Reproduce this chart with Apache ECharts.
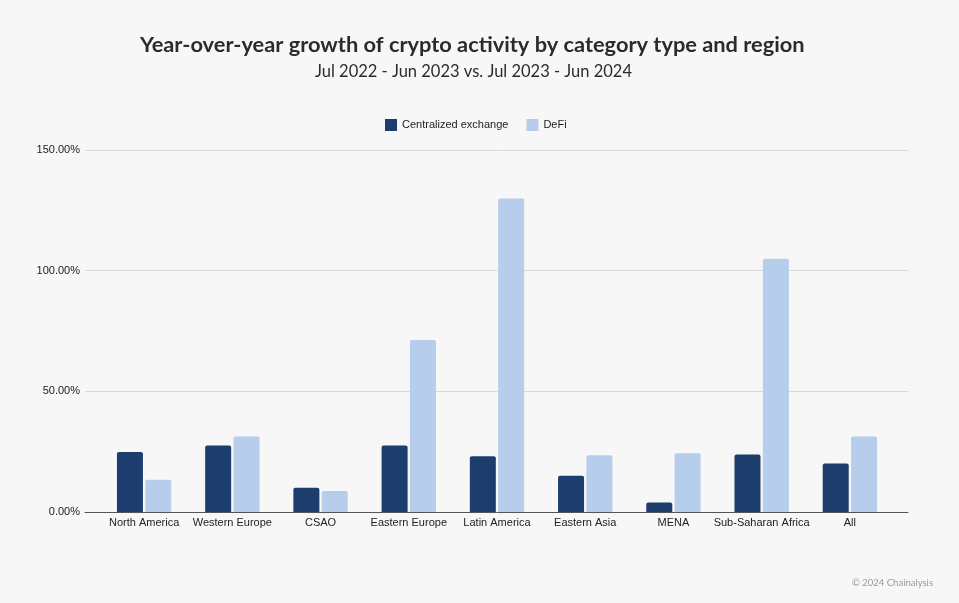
<!DOCTYPE html>
<html><head><meta charset="utf-8">
<script src="https://cdn.jsdelivr.net/npm/echarts@6/dist/echarts.min.js"></script>
<style>html,body{margin:0;padding:0;background:#f7f7f7}#c{width:959px;height:603px}</style>
</head><body><div id="c"></div>
<script>
const categories = ['North America','Western Europe','CSAO','Eastern Europe','Latin America','Eastern Asia','MENA','Sub-Saharan Africa','All'];
const cexValues = [24.9, 27.6, 10.1, 27.6, 23.1, 15.0, 3.9, 23.8, 20.1];
const defiValues = [13.4, 31.3, 8.7, 71.3, 129.9, 23.5, 24.3, 104.9, 31.3];
const yTicks = {min: 0, max: 150, interval: 50};

const chart = echarts.init(document.getElementById('c'));
const lab = {fontFamily: 'Liberation Sans, Arial, sans-serif', fontSize: 11, color: '#222'};
chart.setOption({
  backgroundColor: '#f7f7f7',
  animation: false,
  title: [
    {text: 'Year-over-year growth of crypto activity by category type and region', left: 135, top: 29,
     textStyle: {fontFamily: 'Lato', fontWeight: 'bold', fontSize: 21.8, color: '#2b2b2b'}},
    {text: 'Jul 2022 - Jun 2023 vs. Jul 2023 - Jun 2024', left: 310, top: 58,
     textStyle: {fontFamily: 'Lato', fontWeight: 'normal', fontSize: 16.5, color: '#2b2b2b'}},
    {text: '© 2024 Chainalysis', right: 21, top: 573,
     textStyle: {fontFamily: 'Lato', fontWeight: 'normal', fontSize: 9.5, color: '#9a9a9a'}}
  ],
  legend: {
    top: 114, left: 380, itemWidth: 12, itemHeight: 12, itemGap: 18,
    icon: 'rect', textStyle: lab,
    data: ['Centralized exchange', 'DeFi']
  },
  grid: [
    {left: 100, right: 65, top: 150, bottom: 91},
    {left: 85, right: 51, top: 150, bottom: 91}
  ],
  xAxis: [
    {type: 'category', gridIndex: 0, data: categories,
     axisLine: {show: false}, axisTick: {show: false},
     axisLabel: Object.assign({margin: 5, interval: 0}, lab)},
    {type: 'value', gridIndex: 1, show: true, min: 0, max: 1,
     axisLine: {show: true, onZero: false, lineStyle: {color: '#555', width: 1}},
     axisTick: {show: false}, axisLabel: {show: false}, splitLine: {show: false}}
  ],
  yAxis: [
    {type: 'value', gridIndex: 0, min: yTicks.min, max: yTicks.max, interval: yTicks.interval,
     axisLabel: {show: false}, splitLine: {show: false}, axisLine: {show: false}, axisTick: {show: false}},
    {type: 'value', gridIndex: 1, min: yTicks.min, max: yTicks.max, interval: yTicks.interval,
     axisLabel: Object.assign({margin: 5, formatter: v => v.toFixed(2) + '%'}, lab),
     splitLine: {lineStyle: {color: '#d9d9d9', width: 1}},
     axisLine: {show: false}, axisTick: {show: false}}
  ],
  series: [
    {name: 'Centralized exchange', type: 'bar', xAxisIndex: 0, yAxisIndex: 0, data: cexValues,
     barWidth: 26, barGap: '9%', itemStyle: {color: '#1c3d6e', borderRadius: [2, 2, 0, 0]}},
    {name: 'DeFi', type: 'bar', xAxisIndex: 0, yAxisIndex: 0, data: defiValues,
     barWidth: 26, barGap: '9%', itemStyle: {color: '#b7cdec', borderRadius: [2, 2, 0, 0]}}
  ]
});
</script></body></html>
